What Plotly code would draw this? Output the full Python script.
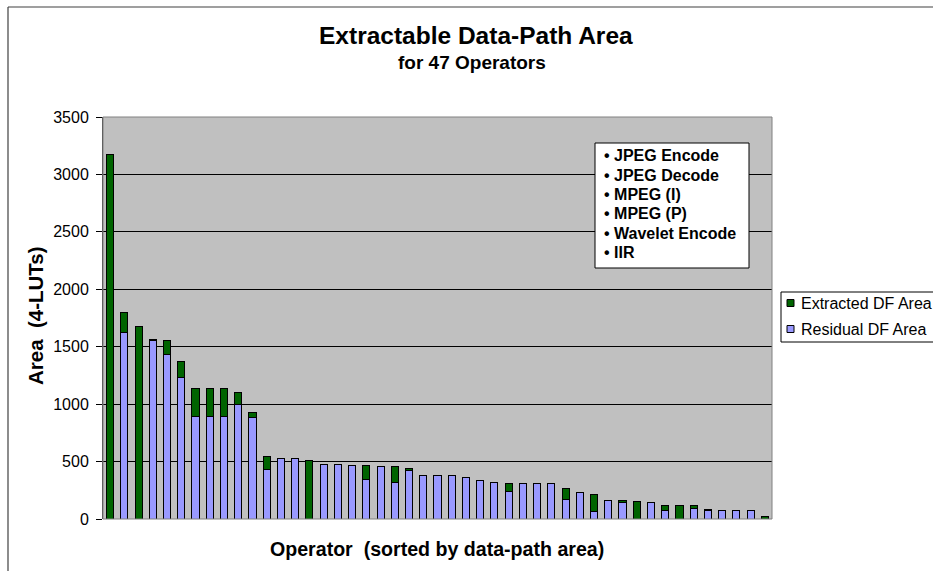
import plotly.graph_objects as go

# Operators sorted by data-path area (4-LUTs)
operators = list(range(1, 48))
residual_df = [0, 1620, 0, 1550, 1430, 1230, 895, 895, 895, 1000, 885, 430, 525, 525, 0,
               476, 476, 467, 342, 455, 320, 425, 383, 383, 383, 360, 334, 322, 238, 310,
               310, 310, 174, 235, 67, 165, 142, 0, 142, 70, 0, 90, 72, 70, 70, 70, 0]
extracted_df = [3170, 175, 1675, 15, 125, 140, 240, 240, 240, 100, 45, 118, 0, 0, 510,
                0, 0, 0, 122, 0, 135, 15, 0, 0, 0, 0, 0, 0, 72, 0,
                0, 0, 90, 0, 148, 0, 23, 154, 0, 46, 116, 26, 9, 0, 0, 0, 23]
series_names = ["Extracted DF Area", "Residual DF Area"]
benchmarks = ["JPEG Encode", "JPEG Decode", "MPEG (I)", "MPEG (P)", "Wavelet Encode", "IIR"]
y_ticks = [0, 500, 1000, 1500, 2000, 2500, 3000, 3500]

GREEN = "#006400"
BLUE = "#9999FF"
FONT = "Liberation Sans, Arial, sans-serif"

W, H = 933, 571
L, R, T, B = 103, 161, 117, 52
PW, PH = W - L - R, H - T - B


def px_x(x):
    return (x - L) / PW


def px_y(y):
    return (H - B - y) / PH


def nz(vals):
    return [v if v else None for v in vals]


fig = go.Figure()
fig.add_trace(go.Bar(x=operators, y=nz(residual_df), name=series_names[1],
                     marker=dict(color=BLUE, line=dict(color="black", width=1)),
                     width=0.5, showlegend=False))
fig.add_trace(go.Bar(x=operators, y=nz(extracted_df), name=series_names[0],
                     marker=dict(color=GREEN, line=dict(color="black", width=1)),
                     width=0.5, showlegend=False))

fig.update_layout(
    width=W, height=H,
    margin=dict(l=L, r=R, t=T, b=B, pad=0),
    barmode="stack",
    paper_bgcolor="white",
    plot_bgcolor="#C0C0C0",
    font=dict(family=FONT, size=16, color="black"),
    xaxis=dict(range=[0.5, 47.5], showticklabels=False, showgrid=False,
               zeroline=False, ticks="", showline=False),
    yaxis=dict(range=[0, 3500], tickvals=y_ticks, showgrid=True, gridcolor="black",
               gridwidth=1, zeroline=False, showline=True, linecolor="#404040",
               linewidth=1, ticks="outside", ticklen=6, tickcolor="black",
               tickfont=dict(size=16, family=FONT), ticklabelstandoff=4),
)

shapes = []
# plot area border
shapes.append(dict(type="rect", xref="paper", yref="paper", x0=0, x1=1, y0=0, y1=1,
                   line=dict(color="#808080", width=1), layer="above"))
# outer chart frame
shapes.append(dict(type="line", xref="paper", yref="paper",
                   x0=px_x(8), x1=px_x(8), y0=px_y(7), y1=px_y(590),
                   line=dict(color="#404040", width=1.2)))
shapes.append(dict(type="line", xref="paper", yref="paper",
                   x0=px_x(8), x1=px_x(950), y0=px_y(7), y1=px_y(7),
                   line=dict(color="#404040", width=1.2)))
# benchmark list box
shapes.append(dict(type="rect", xref="paper", yref="paper",
                   x0=px_x(595), x1=px_x(749), y0=px_y(268), y1=px_y(143),
                   fillcolor="white", line=dict(color="black", width=1), layer="above"))
# legend box and swatches
shapes.append(dict(type="rect", xref="paper", yref="paper",
                   x0=px_x(781), x1=px_x(960), y0=px_y(342), y1=px_y(292),
                   fillcolor="white", line=dict(color="black", width=1)))
for yc, col in ((303, GREEN), (329, BLUE)):
    shapes.append(dict(type="rect", xref="paper", yref="paper",
                       x0=px_x(787), x1=px_x(794), y0=px_y(yc + 3.5), y1=px_y(yc - 3.5),
                       fillcolor=col, line=dict(color="black", width=1)))
fig.update_layout(shapes=shapes)

ann = []
ann.append(dict(text="<b>Extractable Data-Path Area</b>", x=px_x(476), y=px_y(36),
                xref="paper", yref="paper", showarrow=False, xanchor="center",
                yanchor="middle", font=dict(size=24.5, family=FONT)))
ann.append(dict(text="<b>for 47 Operators</b>", x=px_x(472), y=px_y(62),
                xref="paper", yref="paper", showarrow=False, xanchor="center",
                yanchor="middle", font=dict(size=19, family=FONT)))
ann.append(dict(text="<b>Operator&nbsp;&nbsp;(sorted by data-path area)</b>",
                x=px_x(437), y=px_y(549), xref="paper", yref="paper", showarrow=False,
                xanchor="center", yanchor="middle", font=dict(size=19.6, family=FONT)))
ann.append(dict(text="<b>Area&nbsp;&nbsp;(4-LUTs)</b>", x=px_x(35), y=px_y(316),
                xref="paper", yref="paper", showarrow=False, textangle=-90,
                xanchor="center", yanchor="middle", font=dict(size=20.5, family=FONT)))
for i, name in enumerate(benchmarks):
    ann.append(dict(text="<b>• " + name + "</b>", x=px_x(602), y=px_y(156 + 19.3 * i),
                    xref="paper", yref="paper", showarrow=False, xanchor="left",
                    yanchor="middle", font=dict(size=16, family=FONT)))
for name, yc in zip(series_names, (303, 329)):
    ann.append(dict(text=name, x=px_x(799), y=px_y(yc), xref="paper", yref="paper",
                    showarrow=False, xanchor="left", yanchor="middle",
                    font=dict(size=16, family=FONT)))
fig.update_layout(annotations=ann)

fig.write_html("out.html")
